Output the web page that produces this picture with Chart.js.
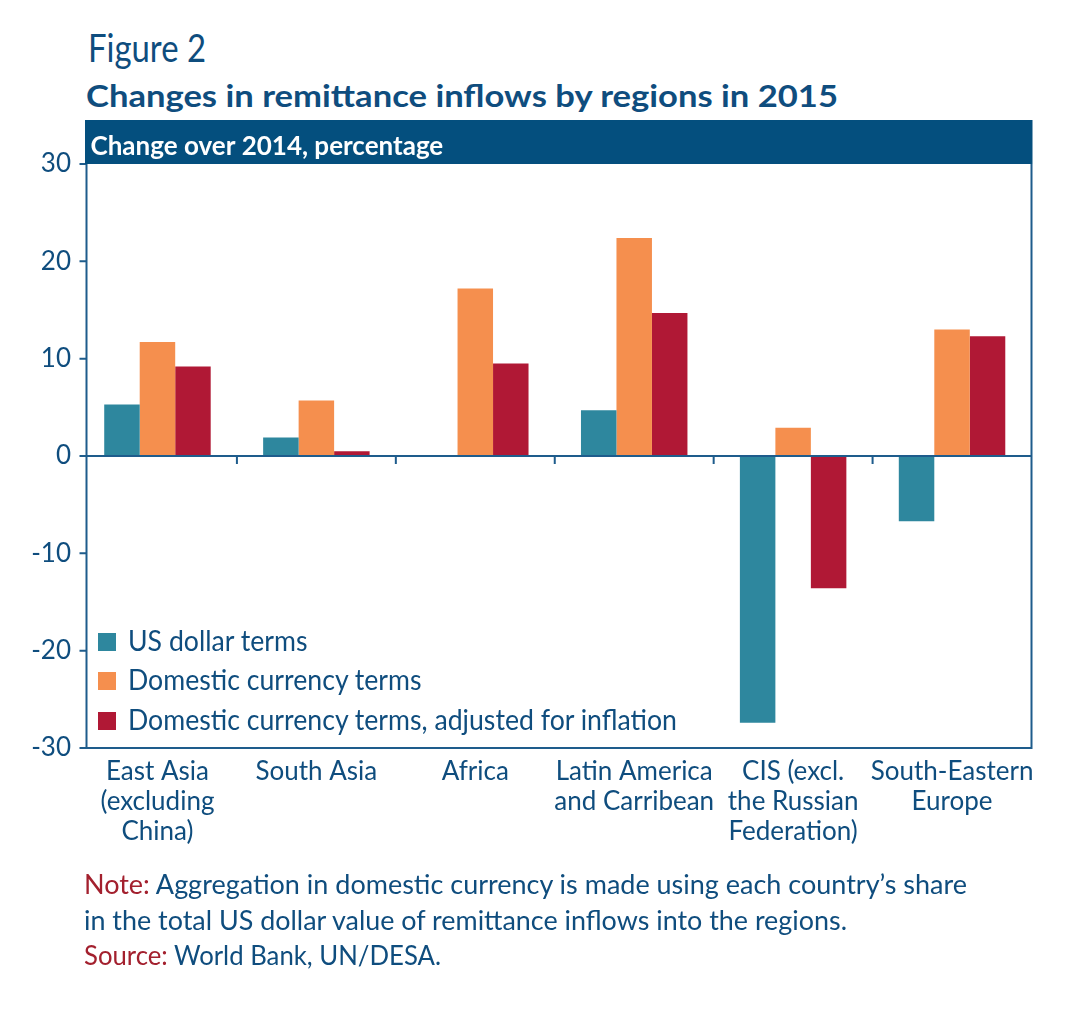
<!DOCTYPE html>
<html>
<head>
<meta charset="utf-8">
<script src="https://cdn.jsdelivr.net/npm/chart.js@4.4.1/dist/chart.umd.min.js"></script>
<style>
  body { margin:0; width:1085px; height:1024px; background:#fff; position:relative; overflow:hidden; font-family:Lato, "Open Sans", sans-serif; color:#0f4d7e; }
  .txt { position:absolute; white-space:nowrap; line-height:1; transform-origin:left center; }
  .fit { display:inline-block; white-space:nowrap; transform-origin:left center; }
  #chartBox { position:absolute; left:0; top:100px; width:1085px; height:770px; }
  #legend { position:absolute; left:98px; top:620px; }
  #legend .row { display:flex; align-items:center; height:39.5px; font-size:28px; }
  #legend .sw { width:18px; height:18px; margin-right:12px; position:relative; top:2px; flex:none; }
  #note { position:absolute; left:84px; top:867px; font-size:26px; line-height:35.5px; }
  #note .red { color:#a3202e; }
</style>
</head>
<body>

<div class="txt" style="left:88px; top:28px; font-size:39px;"><span class="fit" data-w="118">Figure 2</span></div>
<div class="txt" style="left:86px; top:80px; font-size:31px; font-weight:700;"><span class="fit" data-w="752">Changes in remittance inflows by regions in 2015</span></div>

<div id="chartBox"><canvas id="grafico"></canvas></div>
<div id="legend"></div>

<div id="note">
  <div><span class="fit" data-w="883"><span class="red">Note:</span> Aggregation in domestic currency is made using each country’s share</span></div>
  <div><span class="fit" data-w="763">in the total US dollar value of remittance inflows into the regions.</span></div>
  <div><span class="fit" data-w="357"><span class="red">Source:</span> World Bank, UN/DESA.</span></div>
</div>

<script>
const categorias = [
  ['East Asia', '(excluding', 'China)'],
  ['South Asia'],
  ['Africa'],
  ['Latin America', 'and Carribean'],
  ['CIS (excl.', 'the Russian', 'Federation)'],
  ['South-Eastern', 'Europe']
];

const usDolar     = [5.3, 1.9, 0, 4.7, -27.4, -6.7];
const domestica   = [11.7, 5.7, 17.2, 22.4, 2.9, 13.0];
const inflacion   = [9.2, 0.5, 9.5, 14.7, -13.6, 12.3];

const series   = ['US dollar terms', 'Domestic currency terms', 'Domestic currency terms, adjusted for inflation'];
const colores  = ['#2e879e', '#f58f4e', '#b01835'];

const yMin = -30, yMax = 30, yPaso = 10;
const subtitulo = 'Change over 2014, percentage';

const AZUL  = '#0f4d7e';
const EJE   = '#1e5c8c';
const BANDA = '#044f7e';

// frame, ticks, zero line and header band
const marco = {
  id: 'marco',
  afterDraw(chart) {
    const { ctx, chartArea: a, scales: { x, y } } = chart;
    const ax = a.left + 8.5;
    const zy = y.getPixelForValue(0);

    ctx.save();
    ctx.strokeStyle = EJE;
    ctx.lineWidth = 2;
    ctx.beginPath();
    ctx.moveTo(ax, a.top);
    ctx.lineTo(ax, a.bottom);
    ctx.lineTo(a.right, a.bottom);
    ctx.lineTo(a.right, a.top);

    y.ticks.forEach(t => {
      const py = y.getPixelForValue(t.value);
      ctx.moveTo(ax - 7, py);
      ctx.lineTo(ax, py);
    });

    ctx.moveTo(ax - 6, zy);
    ctx.lineTo(a.right, zy);

    for (let i = 1; i < categorias.length; i++) {
      const px = (x.getPixelForValue(i - 1) + x.getPixelForValue(i)) / 2;
      ctx.moveTo(px, zy);
      ctx.lineTo(px, zy + 8);
    }
    ctx.stroke();

    ctx.fillStyle = BANDA;
    ctx.fillRect(ax - 1.5, a.top - 44, a.right - ax + 2.5, 44);
    ctx.fillStyle = '#fff';
    ctx.font = 'bold 26px Lato';
    ctx.textBaseline = 'alphabetic';
    ctx.fillText(subtitulo, ax + 4, a.top - 9);
    ctx.restore();
  }
};

const datos = [usDolar, domestica, inflacion];

new Chart(document.getElementById('grafico'), {
  type: 'bar',
  data: {
    labels: categorias,
    datasets: series.map((s, i) => ({
      label: s,
      data: datos[i],
      backgroundColor: colores[i],
      borderWidth: 0,
      barPercentage: 1.0,
      categoryPercentage: 0.67
    }))
  },
  options: {
    responsive: true,
    maintainAspectRatio: false,
    animation: false,
    layout: { padding: { top: 64, right: 53.5, left: 0, bottom: 12 } },
    plugins: { legend: { display: false }, tooltip: { enabled: false } },
    scales: {
      x: {
        grid: { display: false, drawTicks: false },
        border: { display: false },
        ticks: {
          color: AZUL,
          font: { family: 'Lato', size: 26, lineHeight: 1.15 },
          padding: 9,
          maxRotation: 0,
          autoSkip: false
        },
        afterFit(scale) { scale.height = 110; }
      },
      y: {
        min: yMin,
        max: yMax,
        grid: { display: false, drawTicks: false },
        border: { display: false },
        ticks: {
          stepSize: yPaso,
          color: AZUL,
          font: { family: 'Lato', size: 26 },
          padding: 7
        },
        afterFit(scale) { scale.width = 78; }
      }
    }
  },
  plugins: [marco]
});

// leyenda
const leyenda = document.getElementById('legend');
series.forEach((s, i) => {
  leyenda.innerHTML += `
    <div class="row">
      <span class="sw" style="background:${colores[i]}"></span>
      <span class="fit lg">${s}</span>
    </div>`;
});

function ajustar() {
  document.querySelectorAll('.fit[data-w]').forEach(el => {
    const w = el.getBoundingClientRect().width;
    el.style.transform = `scaleX(${el.dataset.w / w})`;
  });
  const lg = [...document.querySelectorAll('.fit.lg')];
  const k = 549 / lg[2].getBoundingClientRect().width;
  lg.forEach(el => el.style.transform = `scaleX(${k})`);
}
ajustar();
</script>
</body>
</html>
